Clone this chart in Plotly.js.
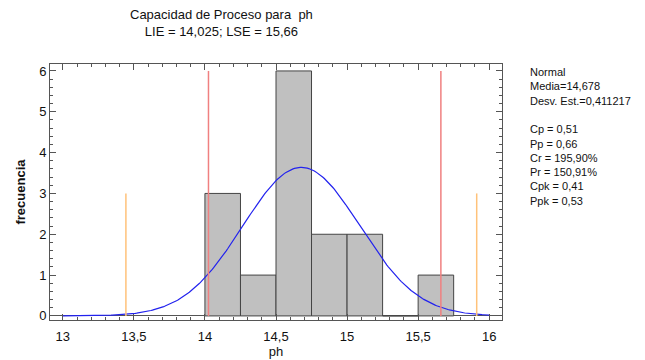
<!DOCTYPE html>
<html>
<head>
<meta charset="utf-8">
<script src="https://cdn.plot.ly/plotly-3.0.1.min.js"></script>
<style>html,body{margin:0;padding:0;background:#fff;}</style>
</head>
<body>
<div id="chart" style="width:645px;height:360px;"></div>
<script>
// Histogram bins (left edges) and counts
const binStarts = [14.0, 14.25, 14.5, 14.75, 15.0, 15.25, 15.5];
const binCounts = [3, 1, 6, 2, 2, 0, 1];
const binWidth = 0.25;

// Fitted normal parameters (from the legend text)
const mean = 14.678;
const sd = 0.411217;
const curveRange = [13.0, 16.0];

// Spec limits and 3-sigma marks
const specLimits = [14.025, 15.66];
const sigmaMarks = [13.444, 15.912];

const xTickVals = [13, 13.5, 14, 14.5, 15, 15.5, 16];
const xTickText = ['13', '13,5', '14', '14,5', '15', '15,5', '16'];

const statsLines = ['Normal', 'Media=14,678', 'Desv. Est.=0,411217', '',
  'Cp = 0,51', 'Pp = 0,66', 'Cr = 195,90%', 'Pr = 150,91%', 'Cpk = 0,41', 'Ppk = 0,53'];

const FONT = '"Liberation Sans Narrow", "Liberation Sans", Arial, sans-serif';

const n = binCounts.reduce((a, b) => a + b, 0);
const curveX = [], curveY = [];
for (let i = 0; i <= 300; i++) {
  const x = curveRange[0] + (curveRange[1] - curveRange[0]) * i / 300;
  curveX.push(x);
  curveY.push(n * binWidth * Math.exp(-0.5 * Math.pow((x - mean) / sd, 2)) / (sd * Math.sqrt(2 * Math.PI)));
}

const traces = [
  {
    type: 'bar',
    x: binStarts.map(b => b + binWidth / 2),
    y: binCounts,
    width: binWidth,
    marker: {color: '#c0c0c0', line: {color: '#444444', width: 1}},
    hoverinfo: 'x+y'
  },
  {
    type: 'scatter', mode: 'lines',
    x: curveX, y: curveY,
    line: {color: '#2222ee', width: 1.2}
  }
];
specLimits.forEach(v => traces.push({
  type: 'scatter', mode: 'lines', x: [v, v], y: [0, 6],
  line: {color: '#f08080', width: 1.5}
}));
sigmaMarks.forEach(v => traces.push({
  type: 'scatter', mode: 'lines', x: [v, v], y: [0, 3],
  line: {color: '#ffc27a', width: 1.5}
}));

const layout = {
  width: 645, height: 360,
  margin: {l: 50, r: 143, t: 64, b: 40},
  paper_bgcolor: '#ffffff', plot_bgcolor: '#ffffff',
  showlegend: false,
  bargap: 0,
  font: {family: FONT, size: 12, color: '#111111'},
  xaxis: {
    range: [12.91, 16.09],
    tickvals: xTickVals, ticktext: xTickText,
    ticks: 'inside', ticklen: 6, tickcolor: '#555',
    minor: {dtick: 0.1, ticks: 'inside', ticklen: 3, tickcolor: '#555'},
    showline: true, linecolor: '#555', linewidth: 1, mirror: 'ticks',
    showgrid: false, zeroline: false,
    ticklabelstandoff: 4,
    tickfont: {family: FONT, size: 13},
    title: {text: 'ph', font: {family: FONT, size: 13}, standoff: 3}
  },
  yaxis: {
    range: [-0.1, 6.17],
    tickvals: [0, 1, 2, 3, 4, 5, 6],
    ticks: 'inside', ticklen: 6, tickcolor: '#555',
    minor: {dtick: 0.2, ticks: 'inside', ticklen: 3, tickcolor: '#555'},
    showline: true, linecolor: '#555', linewidth: 1, mirror: 'ticks',
    showgrid: false, zeroline: true, zerolinecolor: '#555', zerolinewidth: 1,
    tickfont: {family: FONT, size: 13},
    title: {text: '<b>frecuencia</b>', font: {family: FONT, size: 13}, standoff: 10}
  },
  annotations: [
    {xref: 'paper', yref: 'paper', x: 0.38, y: 1.0, yshift: 59, yanchor: 'top', xanchor: 'center',
     text: 'Capacidad de Proceso para  ph<br>LIE = 14,025; LSE = 15,66', showarrow: false,
     font: {family: FONT, size: 13}, align: 'center'},
    {xref: 'paper', yref: 'paper', x: 1.0, xshift: 26, y: 1.0, yshift: 0, yanchor: 'top', xanchor: 'left',
     text: statsLines.join('<br>'), showarrow: false, align: 'left',
     font: {family: FONT, size: 11}}
  ]
};

Plotly.newPlot('chart', traces, layout, {displayModeBar: false, staticPlot: true});
</script>
</body>
</html>
